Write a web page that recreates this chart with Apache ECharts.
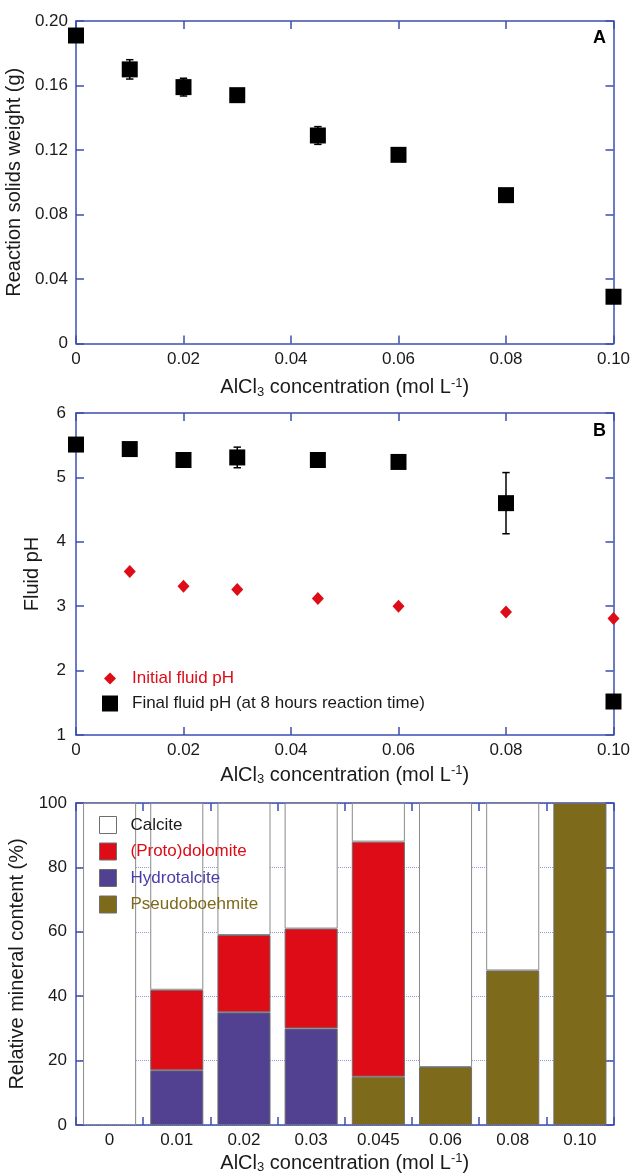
<!DOCTYPE html>
<html>
<head>
<meta charset="utf-8">
<script src="https://cdn.jsdelivr.net/npm/echarts@6/dist/echarts.min.js"></script>
<style>
  html, body { margin: 0; padding: 0; background: #fff; }
  #chart { width: 630px; height: 1174px; }
</style>
</head>
<body>
<div id="chart"></div>
<script>
// AlCl3 concentrations (mol/L)
const conc = [0, 0.01, 0.02, 0.03, 0.045, 0.06, 0.08, 0.10];
// A: reaction solids weight (g) and error half-widths
const solidsWeight = [0.191, 0.170, 0.159, 0.154, 0.129, 0.117, 0.092, 0.029];
const solidsErr = [0, 0.006, 0.0055, 0, 0.0055, 0, 0, 0];
// B: fluid pH
const initialConc = [0.01, 0.02, 0.03, 0.045, 0.06, 0.08, 0.10];
const initialPH = [3.54, 3.31, 3.26, 3.12, 3.00, 2.91, 2.81];
const finalPH = [5.51, 5.44, 5.27, 5.31, 5.27, 5.24, 4.60, 1.52];
const finalPHErr = [0, 0, 0, 0.16, 0, 0, 0.475, 0];
// C: relative mineral content (%)
const concLabels = ['0', '0.01', '0.02', '0.03', '0.045', '0.06', '0.08', '0.10'];
const hydrotalcite = [0, 17, 35, 30, 0, 0, 0, 0];
const pseudoboehmite = [0, 0, 0, 0, 15, 18, 48, 100];
const protodolomite = [0, 25, 24, 31, 73, 0, 0, 0];
const calcite = [100, 58, 41, 39, 12, 82, 52, 0];

const FONT = '"Liberation Sans", Arial, Helvetica, sans-serif';
const AXIS = '#3c4fb0';
const TXT = '#1a1a1a';
const RED = '#de0c17';
const PURPLE = '#524191';
const BROWN = '#7e6a1b';

const chart = echarts.init(document.getElementById('chart'));

const xName = '{a|AlCl}{sub|3}{a| concentration (mol L}{sup|-1}{a|)}';
const xNameStyle = {
  color: TXT, fontFamily: FONT, fontSize: 20,
  rich: {
    a: { fontSize: 20, fontFamily: FONT, color: TXT },
    sub: { fontSize: 13, fontFamily: FONT, color: TXT, padding: [9, 0, 0, 0] },
    sup: { fontSize: 13, fontFamily: FONT, color: TXT, padding: [0, 0, 9, 0] }
  }
};

function fmtX(v) { return v === 0 ? '0' : v.toFixed(2); }

function valueX(grid, bottom, nameGap) {
  return {
    type: 'value', gridIndex: grid, position: bottom ? 'bottom' : 'top',
    min: 0, max: 0.1, interval: 0.02,
    axisLine: { show: true, onZero: false, lineStyle: { color: AXIS, width: 1.5 } },
    axisTick: { show: true, inside: true, length: 8, lineStyle: { color: AXIS, width: 1.5 } },
    axisLabel: bottom ? { show: true, margin: 7, color: TXT, fontSize: 17, fontFamily: FONT, formatter: fmtX } : { show: false },
    splitLine: { show: false },
    name: bottom ? xName : '', nameLocation: 'middle', nameGap: nameGap, nameTextStyle: xNameStyle
  };
}

function valueY(grid, left, min, max, interval, fmt, margin, name, nameGap, split) {
  return {
    type: 'value', gridIndex: grid, position: left ? 'left' : 'right',
    min: min, max: max, interval: interval,
    axisLine: { show: true, onZero: false, lineStyle: { color: AXIS, width: 1.5 } },
    axisTick: { show: true, inside: true, length: 8, lineStyle: { color: AXIS, width: 1.5 } },
    axisLabel: left ? { show: true, margin: margin, color: TXT, fontSize: 17, fontFamily: FONT, formatter: fmt } : { show: false },
    splitLine: split ? { show: true, lineStyle: { type: 'dotted', color: '#8e9be0', width: 1 } } : { show: false },
    name: left ? name : '', nameLocation: 'middle', nameGap: nameGap,
    nameTextStyle: { color: TXT, fontSize: 20, fontFamily: FONT }
  };
}

function catX(grid, bottom) {
  return {
    type: 'category', gridIndex: grid, position: bottom ? 'bottom' : 'top',
    data: concLabels, boundaryGap: true,
    axisLine: { show: true, onZero: false, lineStyle: { color: AXIS, width: 1.5 } },
    axisTick: { show: true, inside: true, length: 8, interval: 0, lineStyle: { color: AXIS, width: 1.5 } },
    axisLabel: bottom ? { show: true, margin: 7, interval: 0, color: TXT, fontSize: 17, fontFamily: FONT } : { show: false },
    splitLine: { show: false },
    name: bottom ? xName : '', nameLocation: 'middle', nameGap: 27, nameTextStyle: xNameStyle
  };
}

// error bars drawn through the axis scales
function errorRender(params, api) {
  const x = api.value(0), y = api.value(1), e = api.value(2);
  if (!e) return null;
  const top = api.coord([x, y + e]);
  const bot = api.coord([x, y - e]);
  const hw = 3.7;
  const st = { stroke: '#000', lineWidth: 1.5 };
  return {
    type: 'group',
    children: [
      { type: 'line', shape: { x1: top[0], y1: top[1], x2: bot[0], y2: bot[1] }, style: st },
      { type: 'line', shape: { x1: top[0] - hw, y1: top[1], x2: top[0] + hw, y2: top[1] }, style: st },
      { type: 'line', shape: { x1: bot[0] - hw, y1: bot[1], x2: bot[0] + hw, y2: bot[1] }, style: st }
    ]
  };
}

const nz = arr => arr.map(v => (v === 0 ? null : v));
const barStyle = (color) => ({ color: color, borderColor: '#6e6e6e', borderWidth: 1 });

const option = {
  animation: false,
  backgroundColor: '#fff',
  textStyle: { fontFamily: FONT },
  grid: [
    { left: 76, top: 21, width: 537.5, height: 322.5, containLabel: false, outerBoundsMode: 'none' },
    { left: 76, top: 413, width: 537.5, height: 322, containLabel: false, outerBoundsMode: 'none' },
    { left: 76, top: 803, width: 537.5, height: 322, containLabel: false, outerBoundsMode: 'none' }
  ],
  xAxis: [
    valueX(0, true, 33), valueX(0, false, 0),
    valueX(1, true, 29), valueX(1, false, 0),
    catX(2, true), catX(2, false)
  ],
  yAxis: [
    valueY(0, true, 0, 0.2, 0.04, v => (v === 0 ? '0' : v.toFixed(2)), 8, 'Reaction solids weight (g)', 45, false),
    valueY(0, false, 0, 0.2, 0.04, null, 8, '', 0, false),
    valueY(1, true, 1, 6, 1, v => String(v), 10, 'Fluid pH', 34, false),
    valueY(1, false, 1, 6, 1, null, 10, '', 0, false),
    valueY(2, true, 0, 100, 20, v => String(v), 9, 'Relative mineral content (%)', 34, true),
    valueY(2, false, 0, 100, 20, null, 9, '', 0, false)
  ],
  legend: [
    {
      left: 104, top: 670, padding: 0, selectedMode: false,
      itemWidth: 12, itemHeight: 12,
      data: [{ name: 'Initial fluid pH', icon: 'diamond' }],
      textStyle: { color: RED, fontSize: 17, fontFamily: FONT, padding: [0, 0, 0, 11] }
    },
    {
      left: 102, top: 695, padding: 0, selectedMode: false,
      itemWidth: 16, itemHeight: 16,
      data: [{ name: 'Final fluid pH (at 8 hours reaction time)', icon: 'rect' }],
      textStyle: { color: TXT, fontSize: 17, fontFamily: FONT, padding: [0, 0, 0, 9] }
    },
    {
      left: 99, top: 816, padding: 0, selectedMode: false, orient: 'vertical',
      itemWidth: 17, itemHeight: 17, itemGap: 8.5,
      itemStyle: { borderColor: '#6e6e6e', borderWidth: 1 },
      data: [
        { name: 'Calcite', icon: 'rect', textStyle: { color: TXT } },
        { name: '(Proto)dolomite', icon: 'rect', textStyle: { color: RED } },
        { name: 'Hydrotalcite', icon: 'rect', textStyle: { color: '#4a3ea6' } },
        { name: 'Pseudoboehmite', icon: 'rect', textStyle: { color: BROWN } }
      ],
      textStyle: { fontSize: 17, fontFamily: FONT, padding: [0, 0, 0, 9] }
    }
  ],
  graphic: [
    { type: 'text', right: 24, top: 29, style: { text: 'A', font: 'bold 18px ' + FONT, fill: '#000' } },
    { type: 'text', right: 24, top: 422, style: { text: 'B', font: 'bold 18px ' + FONT, fill: '#000' } },
    { type: 'text', right: 30, top: 812, style: { text: 'C', font: 'bold 18px ' + FONT, fill: '#000' } }
  ],
  series: [
    {
      type: 'custom', xAxisIndex: 0, yAxisIndex: 0, z: 1,
      renderItem: errorRender, encode: { x: 0, y: 1 },
      data: conc.map((c, i) => [c, solidsWeight[i], solidsErr[i]])
    },
    {
      name: 'Reaction solids weight', type: 'scatter', xAxisIndex: 0, yAxisIndex: 0, z: 3,
      symbol: 'rect', symbolSize: 16, itemStyle: { color: '#000', opacity: 1 },
      data: conc.map((c, i) => [c, solidsWeight[i]])
    },
    {
      type: 'custom', xAxisIndex: 2, yAxisIndex: 2, z: 1,
      renderItem: errorRender, encode: { x: 0, y: 1 },
      data: conc.map((c, i) => [c, finalPH[i], finalPHErr[i]])
    },
    {
      name: 'Initial fluid pH', type: 'scatter', xAxisIndex: 2, yAxisIndex: 2, z: 3,
      symbol: 'diamond', symbolSize: [12, 13], itemStyle: { color: RED, opacity: 1 },
      data: initialConc.map((c, i) => [c, initialPH[i]])
    },
    {
      name: 'Final fluid pH (at 8 hours reaction time)', type: 'scatter', xAxisIndex: 2, yAxisIndex: 2, z: 3,
      symbol: 'rect', symbolSize: 16, itemStyle: { color: '#000', opacity: 1 },
      data: conc.map((c, i) => [c, finalPH[i]])
    },
    {
      name: 'Hydrotalcite', type: 'bar', xAxisIndex: 4, yAxisIndex: 4, stack: 'mineral',
      barWidth: '79%', itemStyle: barStyle(PURPLE), data: nz(hydrotalcite)
    },
    {
      name: 'Pseudoboehmite', type: 'bar', xAxisIndex: 4, yAxisIndex: 4, stack: 'mineral',
      barWidth: '79%', itemStyle: barStyle(BROWN), data: nz(pseudoboehmite)
    },
    {
      name: '(Proto)dolomite', type: 'bar', xAxisIndex: 4, yAxisIndex: 4, stack: 'mineral',
      barWidth: '79%', itemStyle: barStyle(RED), data: nz(protodolomite)
    },
    {
      name: 'Calcite', type: 'bar', xAxisIndex: 4, yAxisIndex: 4, stack: 'mineral',
      barWidth: '79%', itemStyle: { color: '#fff', borderColor: '#8a8a8a', borderWidth: 1 }, data: nz(calcite)
    }
  ]
};

chart.setOption(option);
</script>
</body>
</html>
